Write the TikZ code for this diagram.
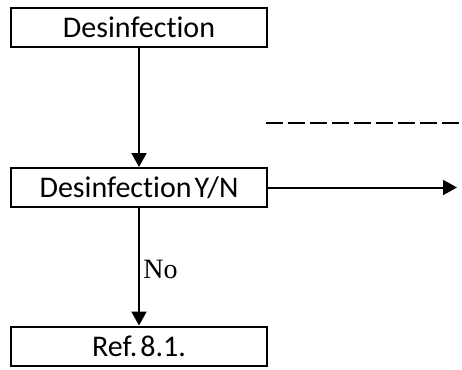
\documentclass[tikz,border=0pt]{standalone}
\usepackage{fontspec}
\setmainfont[Ligatures={NoCommon,NoRare}]{Carlito}
\newfontfamily\serifno{Liberation Serif}
\usetikzlibrary{arrows.meta}
\begin{document}
\begin{tikzpicture}[x=1pt,y=-1pt,
  box/.style={draw,line width=2pt,minimum width=256pt,minimum height=39pt,inner sep=0pt,font=\fontsize{30}{34}\selectfont},
  conn/.style={line width=2pt,-{Triangle[length=14pt,width=15pt]}}]
\useasboundingbox (0,0) rectangle (462,369);
\node[box] (a) at (139,27.5) {Desinfection};
\node[box] (b) at (139,187.5) {Desinfection\hspace{0.1em}Y/N};
\node[box] (c) at (139,346) {Ref.\hspace{0.1em}8.1.};
\coordinate (r) at (457,187.5);
\coordinate (d1) at (266,123);
\coordinate (d2) at (462,123);
\draw[conn] (a) -- (b);
\draw[conn] (b) -- node[right,font=\serifno\fontsize{28}{32}\selectfont,xshift=0pt,yshift=-3pt] {No} (c);
\draw[conn] (b) -- (r);
\draw[line width=2pt,dash pattern=on 16.5pt off 5.5pt] (d1) -- (d2);
\end{tikzpicture}
\end{document}
